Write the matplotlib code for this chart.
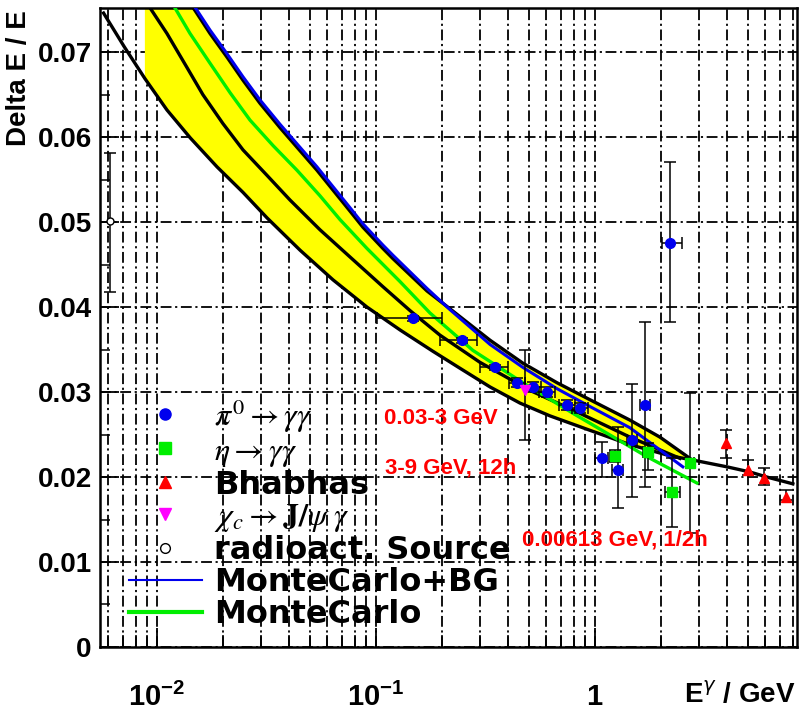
import numpy as np
import matplotlib.pyplot as plt
from matplotlib.font_manager import FontProperties
from matplotlib.lines import Line2D

plt.rcParams['font.family'] = ['DejaVu Sans']
plt.rcParams['mathtext.fontset'] = 'custom'
plt.rcParams['mathtext.rm'] = 'Liberation Sans:bold'
plt.rcParams['mathtext.bf'] = 'Liberation Sans:bold'

# black reference curves (lower edge / middle / upper edge of the band)
low_E = [0.0057, 0.0071, 0.0088, 0.0111, 0.0142, 0.0188, 0.0247, 0.0318, 0.045, 0.0637,
         0.091, 0.129, 0.182, 0.242, 0.332, 0.455, 0.623, 0.949, 1.45, 2.20, 2.80,
         4.01, 5.10, 6.10, 8.02]
low_y = [0.0746, 0.0706, 0.0669, 0.0632, 0.0599, 0.0565, 0.0535, 0.0505, 0.0467, 0.0432,
         0.0400, 0.0373, 0.0348, 0.0328, 0.0306, 0.0287, 0.0272, 0.0255, 0.0238, 0.0225, 0.0220,
         0.0212, 0.0206, 0.0200, 0.0192]

mid_E = [0.0093, 0.0111, 0.0137, 0.0162, 0.0200, 0.0247, 0.0318, 0.0405, 0.0555, 0.0761,
         0.1076, 0.1429, 0.196, 0.2985, 0.505, 0.854, 1.445, 2.444]
mid_y = [0.0752, 0.0722, 0.0682, 0.0650, 0.0616, 0.0585, 0.0555, 0.0526, 0.0491, 0.0459,
         0.0424, 0.0396, 0.0367, 0.0335, 0.0302, 0.0275, 0.0247, 0.0222]

up_E = [0.01386, 0.01492, 0.01746, 0.0209, 0.0247, 0.0295, 0.0365, 0.0450, 0.0538, 0.0617,
        0.0761, 0.0872, 0.1076, 0.1196, 0.171, 0.2178, 0.332, 0.469, 0.671, 0.949,
        1.445, 1.981, 2.715]
up_y = [0.0761, 0.0749, 0.0722, 0.0694, 0.0667, 0.0640, 0.0611, 0.0584, 0.0561, 0.0542,
        0.0513, 0.0494, 0.0469, 0.0457, 0.0419, 0.0398, 0.0361, 0.0334, 0.0311, 0.0291,
        0.0267, 0.0247, 0.0222]

# Monte Carlo curves
mc_E = [0.01208, 0.01415, 0.01746, 0.0216, 0.0266, 0.0339, 0.0436, 0.0555, 0.0685, 0.091,
        0.1288, 0.1766, 0.2773, 0.469, 0.794, 1.727, 2.923]
mc_y = [0.0752, 0.0722, 0.0687, 0.0652, 0.0620, 0.0590, 0.0561, 0.0531, 0.0503, 0.0469,
        0.0430, 0.0393, 0.0349, 0.0311, 0.0275, 0.0224, 0.0193]
mcbg_E = [0.0149, 0.01746, 0.0209, 0.0247, 0.0295, 0.0365, 0.045, 0.0538, 0.0617, 0.0761,
          0.0872, 0.1076, 0.1196, 0.171, 0.2178, 0.332, 0.469, 0.671, 0.949, 1.445, 2.522]
mcbg_y = [0.0753, 0.0726, 0.0698, 0.0671, 0.0644, 0.0615, 0.0588, 0.0565, 0.0546, 0.0517,
          0.0498, 0.0473, 0.0461, 0.0422, 0.0397, 0.0356, 0.0329, 0.0304, 0.0283, 0.0258, 0.0212]
band_left = 0.0088

# measurements
pi0_E = [0.148, 0.247, 0.349, 0.441, 0.521, 0.604, 0.745, 0.854, 1.076, 1.274, 1.476, 1.692, 2.20]
pi0_y = [0.0387, 0.0361, 0.0329, 0.0311, 0.0306, 0.0300, 0.0285, 0.0281, 0.0222, 0.0208, 0.0244, 0.0285, 0.0476]
pi0_E_lo = [0.101, 0.196, 0.298, 0.405, 0.480, 0.555, 0.685, 0.785, 1.00, 1.20, 1.40, 1.60, 2.02]
pi0_E_hi = [0.200, 0.289, 0.401, 0.480, 0.565, 0.655, 0.810, 0.930, 1.15, 1.35, 1.55, 1.79, 2.50]
pi0_y_lo = [0.0384, 0.0358, 0.0326, 0.0306, 0.0300, 0.0294, 0.0279, 0.0275, 0.0200, 0.0164, 0.0176, 0.0188, 0.0382]
pi0_y_hi = [0.0390, 0.0364, 0.0332, 0.0316, 0.0312, 0.0306, 0.0291, 0.0287, 0.0241, 0.0259, 0.0309, 0.0382, 0.0571]

eta_E = [1.234, 1.746, 2.248, 2.715]
eta_y = [0.0225, 0.0229, 0.0182, 0.0216]
eta_E_lo = [1.17, 1.65, 2.09, 2.60]
eta_E_hi = [1.30, 1.85, 2.44, 2.85]
eta_y_lo = [0.0218, 0.0208, 0.0141, 0.0134]
eta_y_hi = [0.0232, 0.0240, 0.0222, 0.0299]

bha_E = [3.96, 5.00, 5.91, 7.45]
bha_y = [0.0240, 0.0208, 0.0199, 0.0176]
bha_y_lo = [0.0222, 0.0202, 0.0191, 0.0173]
bha_y_hi = [0.0255, 0.0220, 0.0211, 0.0185]

chic_E = [0.479]
chic_y = [0.0302]
chic_y_lo = [0.0244]
chic_y_hi = [0.0349]

src_E = [0.00613]
src_y = [0.0501]
src_y_lo = [0.0418]
src_y_hi = [0.0581]


def yerr(v, lo, hi):
    v = np.array(v)
    return [v - np.array(lo), np.array(hi) - v]


fig = plt.figure(figsize=(8, 7.13), dpi=100)
ax = fig.add_axes([0.125, 0.0926, 0.871, 0.8962])
ax.set_xscale('log')
ax.set_xlim(0.00549, 8.36)
ax.set_ylim(0, 0.0752)
ax.set_axisbelow(True)

# grid, ROOT style dash-dot
ax.set_yticks(np.arange(0, 0.075, 0.01))
ax.set_yticks(np.arange(0.005, 0.075, 0.01), minor=True)
gstyle = dict(color='black', linestyle=(0, (6, 2, 1.2, 2)), linewidth=1.3)
ax.grid(True, which='major', axis='both', **gstyle)
ax.grid(True, which='minor', axis='x', **gstyle)

# yellow band
m = (np.array(low_E) >= band_left) & (np.array(low_E) <= 2.8)
bx = [band_left] + up_E + list(np.array(low_E)[m][::-1])
by = [up_y[0]] + up_y + list(np.array(low_y)[m][::-1])
ax.fill(bx, by, color='#ffff00', zorder=1, lw=0)

for E, y in [(low_E, low_y), (mid_E, mid_y)]:
    ax.plot(E, y, color='black', lw=2.4, zorder=3, solid_joinstyle='round')
ax.plot(mc_E, mc_y, color='#00ee00', lw=2.4, zorder=4, solid_joinstyle='round')
ax.plot(up_E, up_y, color='black', lw=2.4, zorder=4, solid_joinstyle='round')
ax.plot(mcbg_E, mcbg_y, color='#0000ee', lw=2.2, zorder=4, solid_joinstyle='round')

eb = dict(ecolor='black', elinewidth=1.1, capsize=4, capthick=1.1, ls='none', zorder=5)
ax.errorbar(pi0_E, pi0_y, yerr=yerr(pi0_y, pi0_y_lo, pi0_y_hi),
            xerr=yerr(pi0_E, pi0_E_lo, pi0_E_hi), fmt='o', ms=7, mfc='#0000ee', mec='#0000ee', **eb)
ax.errorbar(eta_E, eta_y, yerr=yerr(eta_y, eta_y_lo, eta_y_hi),
            xerr=yerr(eta_E, eta_E_lo, eta_E_hi), fmt='s', ms=7, mfc='#00ee00', mec='#00ee00', **eb)
ax.errorbar(bha_E, bha_y, yerr=yerr(bha_y, bha_y_lo, bha_y_hi),
            fmt='^', ms=7, mfc='red', mec='red', **eb)
ax.errorbar(chic_E, chic_y, yerr=yerr(chic_y, chic_y_lo, chic_y_hi),
            fmt='v', ms=7, mfc='magenta', mec='magenta', **eb)
ax.errorbar(src_E, src_y, yerr=yerr(src_y, src_y_lo, src_y_hi),
            fmt='o', ms=5, mfc='white', mec='black', **eb)

# ticks
tick_font = FontProperties(family='Liberation Sans', weight='bold', size=20)
ax.set_xticks([0.01, 0.1, 1])
ax.set_xticklabels([r'$\mathbf{10^{-2}}$', r'$\mathbf{10^{-1}}$', r'$\mathbf{1}$'])
ax.set_yticklabels(['0', '0.01', '0.02', '0.03', '0.04', '0.05', '0.06', '0.07'])
for lab in ax.get_yticklabels():
    lab.set_fontproperties(tick_font)
for lab in ax.get_xticklabels():
    lab.set_fontsize(21)
ax.tick_params(which='both', direction='in', top=False, right=False)
ax.tick_params(axis='y', which='major', length=14, width=1.3, pad=6)
ax.tick_params(axis='y', which='minor', length=7, width=1.1)
ax.tick_params(axis='x', which='major', length=14, width=1.3, pad=26)
ax.tick_params(axis='x', which='minor', length=9, width=1.1)
for s in ax.spines.values():
    s.set_linewidth(1.8)

fig.text(0.024, 0.985, 'Delta E / E', rotation=90, ha='center', va='top',
         fontproperties=FontProperties(family='Liberation Sans', weight='bold', size=20))
fig.text(0.994, 0.025, r'E$^{\gamma}$ / GeV', ha='right', va='center',
         fontproperties=FontProperties(family='Liberation Sans', weight='bold', size=20))

# legend
handles = [
    Line2D([], [], ls='none', marker='o', ms=8, color='#0000ee'),
    Line2D([], [], ls='none', marker='s', ms=9, color='#00ee00'),
    Line2D([], [], ls='none', marker='^', ms=8, color='red'),
    Line2D([], [], ls='none', marker='v', ms=8, color='magenta'),
    Line2D([], [], ls='none', marker='o', ms=7, mfc='white', mec='black'),
    Line2D([], [], color='#0000ee', lw=1.5),
    Line2D([], [], color='#00ee00', lw=3),
]
labels = [r'$\pi^0 \rightarrow \gamma\gamma$', r'$\eta \rightarrow \gamma\gamma$', 'Bhabhas',
          r'$\chi_c \rightarrow \mathbf{J/}\psi\ \gamma$', 'radioact. Source',
          'MonteCarlo+BG', 'MonteCarlo']
leg_font = FontProperties(family='DejaVu Sans', weight='bold', size=23, math_fontfamily='stix')
ax.legend(handles, labels, loc='lower left', bbox_to_anchor=(0.041, 0.026), prop=leg_font,
          frameon=False, labelspacing=0.03, handlelength=2.3, handletextpad=0.37,
          borderpad=0, borderaxespad=0)

red_font = FontProperties(family='Liberation Sans', weight='bold', size=16)
fig.text(0.48, 1 - 418 / 713, '0.03-3 GeV', color='red', va='center', fontproperties=red_font)
fig.text(0.481, 1 - 468 / 713, '3-9 GeV, 12h', color='red', va='center', fontproperties=red_font)
fig.text(0.6525, 1 - 540 / 713, '0.00613 GeV, 1/2h', color='red', va='center', fontproperties=red_font)

fig.savefig('out.png', dpi=100)
